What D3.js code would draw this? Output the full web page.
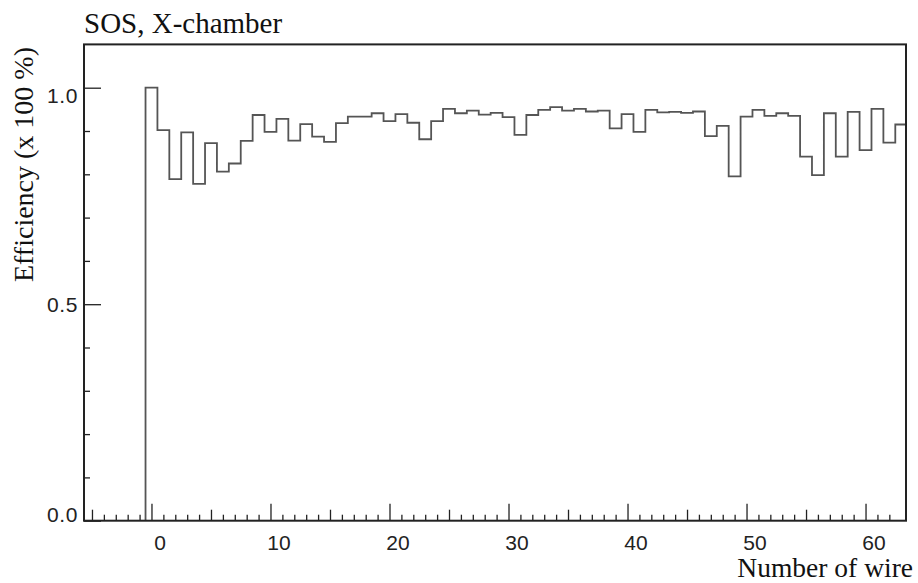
<!DOCTYPE html>
<html>
<head>
<meta charset="utf-8">
<script src="https://cdn.jsdelivr.net/npm/d3@7"></script>
<style>
  html, body { margin: 0; padding: 0; background: #fff; }
  svg { display: block; }
</style>
</head>
<body>
<svg id="chart" width="918" height="583"></svg>
<script>
// ---- data ----
const wires = d3.range(0, 64); // wire numbers 0..63
const efficiency = [
  1.000, 0.902, 0.789, 0.897, 0.778, 0.872, 0.806, 0.825, 0.877, 0.937,
  0.898, 0.928, 0.878, 0.916, 0.887, 0.875, 0.918, 0.933, 0.933, 0.941,
  0.923, 0.939, 0.919, 0.881, 0.923, 0.951, 0.941, 0.947, 0.938, 0.942,
  0.932, 0.891, 0.937, 0.949, 0.955, 0.947, 0.951, 0.945, 0.947, 0.906,
  0.939, 0.898, 0.949, 0.943, 0.944, 0.942, 0.945, 0.888, 0.912, 0.795,
  0.933, 0.949, 0.935, 0.941, 0.935, 0.841, 0.798, 0.941, 0.841, 0.944,
  0.856, 0.951, 0.873, 0.915
];
const xMajorTicks = [0, 10, 20, 30, 40, 50, 60];
const yMajorTicks = [0.0, 0.5, 1.0];
const titleText = "SOS, X-chamber";
const xTitle = "Number of wire";
const yTitle = "Efficiency (x 100 %)";

// ---- layout ----
const svg = d3.select("#chart");
const L = 84, R = 906, T = 44.4, B = 520.7;
const x = d3.scaleLinear().domain([-5.67, 63.4]).range([L, R]);
const y = d3.scaleLinear().domain([0, 1.1]).range([B, T]);
// labels in the picture are slightly displaced from their ticks
const yLabelPos = d3.scaleLinear().domain([0, 1]).range([513.5, 94.5]);

const axisColor = "#222";
const sansFont = "'Liberation Sans', Arial, Helvetica, sans-serif";
const serifFont = "'Liberation Serif', 'Times New Roman', serif";

// ---- histogram ----
const xMin = x.domain()[0], xMax = x.domain()[1];
const pts = [[x(-0.5), y(0)]];
wires.forEach((w, i) => {
  const lo = Math.max(w - 0.5, xMin), hi = Math.min(w + 0.5, xMax);
  pts.push([x(lo), y(efficiency[i])]);
  pts.push([x(hi), y(efficiency[i])]);
});
svg.append("path")
  .attr("d", d3.line()(pts))
  .attr("fill", "none")
  .attr("stroke", "#555")
  .attr("stroke-width", 1.8)
  .attr("stroke-linejoin", "miter");

// ---- x axis ticks (inward) ----
function xTicks(values, size, labels) {
  const ax = d3.axisBottom(x).tickValues(values).tickSize(-size).tickSizeOuter(0);
  if (labels) ax.tickFormat(d3.format("d")).tickPadding(size > 0 ? 14 : 8);
  else ax.tickFormat("");
  const g = svg.append("g").attr("transform", `translate(0,${B})`).call(ax);
  g.select(".domain").remove();
  g.selectAll(".tick line").attr("stroke", axisColor).attr("stroke-width", 1.3);
  return g;
}
const xMinor = d3.range(-5, 63).filter(v => v % 5 !== 0);
const xMedium = d3.range(-5, 63).filter(v => v % 5 === 0 && v % 10 !== 0);
xTicks(xMinor, 6, false);
xTicks(xMedium, 11, false);
const gxMajor = xTicks(xMajorTicks, 17, true);
gxMajor.selectAll(".tick text")
  .attr("y", null).attr("dy", null)
  .attr("transform", null)
  .attr("x", 8)
  .attr("y", 29.5)
  .attr("fill", "#222")
  .style("font-family", sansFont)
  .style("font-size", "21px");

// ---- y axis ticks (inward) ----
function yTicksFn(values, size, labels) {
  const ax = d3.axisLeft(y).tickValues(values).tickSize(-size).tickSizeOuter(0);
  if (labels) ax.tickFormat(d3.format(".1f")).tickPadding(6);
  else ax.tickFormat("");
  const g = svg.append("g").attr("transform", `translate(${L},0)`).call(ax);
  g.select(".domain").remove();
  g.selectAll(".tick line").attr("stroke", axisColor).attr("stroke-width", 1.3);
  return g;
}
const yMinor = d3.range(1, 11).map(v => v / 10).filter(v => Math.abs(v - 0.5) > 1e-9 && Math.abs(v - 1) > 1e-9);
yTicksFn(yMinor, 6, false);
const gyMajor = yTicksFn(yMajorTicks, 17, true);
gyMajor.selectAll(".tick text")
  .attr("dy", "0.36em")
  .attr("y", d => yLabelPos(d) - y(d))
  .attr("fill", "#222")
  .style("font-family", sansFont)
  .style("font-size", "21px")
  .style("letter-spacing", "0.6px");

// ---- frame ----
svg.append("rect")
  .attr("x", L).attr("y", T)
  .attr("width", R - L).attr("height", B - T)
  .attr("fill", "none")
  .attr("stroke", axisColor)
  .attr("stroke-width", 2);

// ---- titles ----
svg.append("text")
  .attr("x", L).attr("y", 33)
  .attr("fill", "#111")
  .style("font-family", serifFont)
  .style("font-size", "29px")
  .text(titleText);

svg.append("text")
  .attr("x", 913).attr("y", 577)
  .attr("text-anchor", "end")
  .attr("fill", "#111")
  .style("font-family", serifFont)
  .style("font-size", "27.5px")
  .text(xTitle);

svg.append("text")
  .attr("transform", "translate(33,47) rotate(-90)")
  .attr("text-anchor", "end")
  .attr("fill", "#111")
  .style("font-family", serifFont)
  .style("font-size", "28px")
  .text(yTitle);
</script>
</body>
</html>
